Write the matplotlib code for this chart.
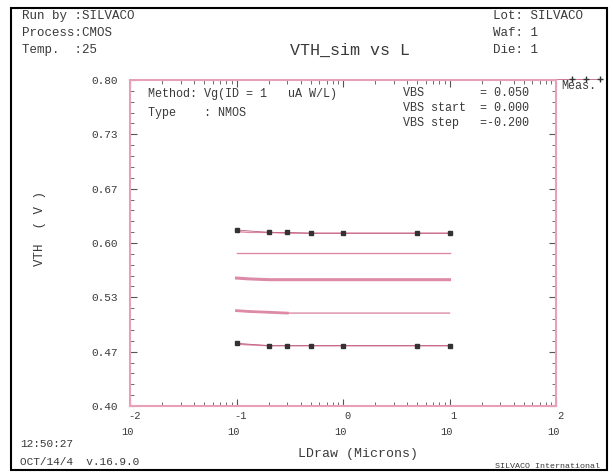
import matplotlib.pyplot as plt
from matplotlib.ticker import FixedLocator, NullFormatter, LogLocator, MultipleLocator
from matplotlib.patches import Rectangle

# data
L_meas = [0.1, 0.2, 0.3, 0.5, 1, 5, 10]
meas_top = [0.616, 0.613, 0.613, 0.612, 0.612, 0.612, 0.612]
meas_bot = [0.477, 0.474, 0.474, 0.474, 0.474, 0.474, 0.474]

L_sim = [0.1, 0.13, 0.2, 0.3, 0.5, 1, 2, 5, 10]
sim_1 = [0.614, 0.613, 0.613, 0.612, 0.612, 0.612, 0.612, 0.612, 0.612]
sim_2 = [0.588, 0.588, 0.588, 0.588, 0.588, 0.588, 0.588, 0.588, 0.588]
sim_3 = [0.557, 0.556, 0.555, 0.555, 0.555, 0.555, 0.555, 0.555, 0.555]
sim_4 = [0.517, 0.516, 0.515, 0.514, 0.514, 0.514, 0.514, 0.514, 0.514]
sim_5 = [0.476, 0.475, 0.474, 0.474, 0.474, 0.474, 0.474, 0.474, 0.474]

yticks = [0.40, 0.4667, 0.5333, 0.60, 0.6667, 0.7333, 0.80]
ytick_labels = ['0.40', '0.47', '0.53', '0.60', '0.67', '0.73', '0.80']
xexp = [-2, -1, 0, 1, 2]

mono = 'Liberation Mono'
pink = '#e8a0b8'
line_c = '#dc8aa8'
txt_c = '#3a3a3a'

fig = plt.figure(figsize=(6.13, 4.73), dpi=100)
ax = fig.add_axes([130/613, 1 - 406/473, 426/613, 326/473])

ax.plot(L_sim, sim_1, color=line_c, lw=1.0)
ax.plot(L_sim, sim_2, color=line_c, lw=1.0)
ax.plot(L_sim, sim_3, color=line_c, lw=2.2)
ax.plot(L_sim, sim_4, color=line_c, lw=1.0)
ax.plot(L_sim[:4], sim_4[:4], color=line_c, lw=2.0)
ax.plot(L_sim, sim_5, color=line_c, lw=1.0)
ax.plot(L_meas, meas_top, color='#c06080', lw=0.6, marker='s', ms=2.3,
        mfc='#333333', mec='#333333')
ax.plot(L_meas, meas_bot, color='#c06080', lw=0.6, marker='s', ms=2.3,
        mfc='#333333', mec='#333333')

ax.set_xscale('log')
ax.set_xlim(0.01, 100)
ax.set_ylim(0.40, 0.80)

for s in ax.spines.values():
    s.set_color(pink)
    s.set_linewidth(1.5)

ax.yaxis.set_major_locator(FixedLocator(yticks))
ax.yaxis.set_minor_locator(MultipleLocator(0.4 / 30))
ax.set_yticklabels(ytick_labels, fontfamily=mono, fontsize=8, color=txt_c)
ax.xaxis.set_major_locator(LogLocator(base=10, numticks=10))
ax.xaxis.set_minor_locator(LogLocator(base=10, subs=range(2, 10), numticks=10))
ax.xaxis.set_major_formatter(NullFormatter())
ax.xaxis.set_minor_formatter(NullFormatter())
ax.tick_params(which='both', direction='in', top=True, right=True, color='#555555')
ax.tick_params(which='major', length=5, width=0.8, pad=9)
ax.tick_params(which='minor', length=3, width=0.6)

for e in xexp:
    xv = 10.0 ** e
    ax.annotate(str(e), xy=(xv, 0), xycoords=('data', 'axes fraction'),
                xytext=(3, -7), textcoords='offset points', ha='center', va='center',
                fontfamily=mono, fontsize=7.5, color=txt_c)
    ax.annotate('10', xy=(xv, 0), xycoords=('data', 'axes fraction'),
                xytext=(-2, -19), textcoords='offset points', ha='center', va='center',
                fontfamily=mono, fontsize=7.5, color=txt_c)

# texts inside plot
ax.text(148/613, 1 - 94/473, 'Method: Vg(ID = 1   uA W/L)', transform=fig.transFigure,
        fontfamily=mono, fontsize=8.5, color=txt_c, va='center')
ax.text(148/613, 1 - 113/473, 'Type    : NMOS', transform=fig.transFigure,
        fontfamily=mono, fontsize=8.5, color=txt_c, va='center')
ax.text(403/613, 1 - 93/473, 'VBS        = 0.050', transform=fig.transFigure,
        fontfamily=mono, fontsize=8.5, color=txt_c, va='center')
ax.text(403/613, 1 - 108/473, 'VBS start  = 0.000', transform=fig.transFigure,
        fontfamily=mono, fontsize=8.5, color=txt_c, va='center')
ax.text(403/613, 1 - 123/473, 'VBS step   =-0.200', transform=fig.transFigure,
        fontfamily=mono, fontsize=8.5, color=txt_c, va='center')

# legend for measured points
fig.text(561/613, 1 - 86/473, 'Meas.', fontfamily=mono, fontsize=8.5, color=txt_c, va='center')
leg_x = [557/613, 572/613, 586/613, 600/613]
leg_y = [1 - 79/473] * 4
fig.lines.append(plt.Line2D(leg_x, leg_y, transform=fig.transFigure, color='#c06080', lw=0.6))
fig.lines.append(plt.Line2D(leg_x[1:], leg_y[1:], transform=fig.transFigure, lw=0,
                            marker='+', ms=4, mec='#333333'))

# header / footer
fig.text(22/613, 1 - 16/473, 'Run by :SILVACO', fontfamily=mono, fontsize=9, color=txt_c, va='center')
fig.text(22/613, 1 - 33/473, 'Process:CMOS', fontfamily=mono, fontsize=9, color=txt_c, va='center')
fig.text(22/613, 1 - 50/473, 'Temp.  :25', fontfamily=mono, fontsize=9, color=txt_c, va='center')
fig.text(350/613, 1 - 50/473, 'VTH_sim vs L', fontfamily=mono, fontsize=12, color=txt_c,
         va='center', ha='center')
fig.text(493/613, 1 - 16/473, 'Lot: SILVACO', fontfamily=mono, fontsize=9, color=txt_c, va='center')
fig.text(493/613, 1 - 33/473, 'Waf: 1', fontfamily=mono, fontsize=9, color=txt_c, va='center')
fig.text(493/613, 1 - 50/473, 'Die: 1', fontfamily=mono, fontsize=9, color=txt_c, va='center')
fig.text(40/613, 1 - 228/473, 'VTH  ( V )', fontfamily=mono, fontsize=9, color=txt_c,
         va='center', ha='center', rotation=90)
fig.text(298/613, 1 - 454/473, 'LDraw (Microns)', fontfamily=mono, fontsize=9.5, color=txt_c,
         va='center', ha='left')
fig.text(20/613, 1 - 444/473, '12:50:27', fontfamily=mono, fontsize=8, color=txt_c, va='center')
fig.text(20/613, 1 - 462/473, 'OCT/14/4  v.16.9.0', fontfamily=mono, fontsize=8, color=txt_c, va='center')
fig.text(600/613, 1 - 466/473, 'SILVACO International', fontfamily=mono, fontsize=6, color=txt_c,
         va='center', ha='right')

# outer frame
fig.patches.append(Rectangle((11/613, 1 - 470/473), 596/613, 462/473, transform=fig.transFigure,
                             fill=False, edgecolor='black', lw=1.5))

fig.savefig('out.png', dpi=100)
